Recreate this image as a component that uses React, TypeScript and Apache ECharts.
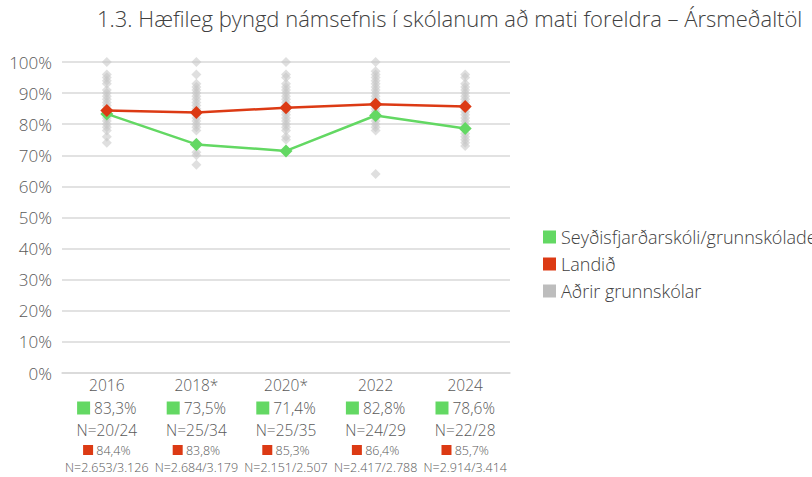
import React, { useEffect, useRef } from "react";
import * as echarts from "echarts";

const titleText = "1.3. Hæfileg þyngd námsefnis í skólanum að mati foreldra – Ársmeðaltöl";
const categories = ["2016", "2018*", "2020*", "2022", "2024"];
const schoolName = "Seyðisfjarðarskóli/grunnskóladeild";
const nationName = "Landið";
const othersName = "Aðrir grunnskólar";
const schoolValues = [83.3, 73.5, 71.4, 82.8, 78.6];
const schoolN = ["N=20/24", "N=25/34", "N=25/35", "N=24/29", "N=22/28"];
const nationValues = [84.4, 83.8, 85.3, 86.4, 85.7];
const nationN = ["N=2.653/3.126", "N=2.684/3.179", "N=2.151/2.507", "N=2.417/2.788", "N=2.914/3.414"];
const others2016 = [100, 96, 95, 94, 93, 91, 90, 89, 88, 87, 86, 85, 84, 83, 82, 81, 80, 79, 78, 76, 74];
const others2018 = [100, 96, 93, 92, 91, 90, 89, 88, 87, 86, 85, 84, 83, 82, 81, 80, 79, 78, 74, 71, 70, 67];
const others2020 = [100, 96, 95, 93, 92, 91, 90, 89, 88, 87, 86, 85, 84, 83, 82, 81, 80, 79, 78, 76, 75];
const others2022 = [100, 97, 96, 95, 94, 93, 92, 91, 90, 89, 88, 87, 86, 85, 84, 82, 81, 80, 79, 78, 64];
const others2024 = [96, 95, 93, 92, 91, 90, 89, 88, 87, 86, 85, 84, 83, 82, 81, 80, 77, 76, 75, 74, 73];
const yTicks = { min: 0, max: 100, interval: 10 };

const fmtPct = (v: number) => v.toFixed(1).replace(".", ",") + "%";

const GREEN = "#63d863";
const RED = "#dc3a14";
const GREY = "#c4c4c4";
const FONT = "'Open Sans', 'Noto Sans', sans-serif";
const TXT = "#595959";

export default function App() {
  const ref = useRef<HTMLDivElement>(null);
  useEffect(() => {
    if (!ref.current) return;
    const chart = echarts.init(ref.current, null, { renderer: "svg" });
    const othersAll = [others2016, others2018, others2020, others2022, others2024];
    const scatterData: [number, number][] = [];
    othersAll.forEach((arr, i) => arr.forEach((v) => scatterData.push([i, v])));
    chart.setOption({
      animation: false,
      textStyle: { fontFamily: FONT },
      graphic: [
        {
          type: "text",
          left: 97,
          top: 7,
          style: { text: titleText, fontSize: 22, fill: "#404040", fontFamily: FONT, fontWeight: 300 },
        },
      ],
      legend: {
        orient: "vertical",
        left: 538,
        top: 223,
        itemWidth: 13,
        itemHeight: 13,
        itemGap: 9,
        icon: "rect",
        textStyle: { fontSize: 18, color: "#404040", fontFamily: FONT, fontWeight: 300 },
        data: [
          { name: schoolName, itemStyle: { color: GREEN } },
          { name: nationName, itemStyle: { color: RED } },
          { name: othersName, itemStyle: { color: "#bdbdbd", opacity: 1 } },
        ],
      },
      grid: { left: 62, right: 302, top: 62, bottom: 104, containLabel: false },
      xAxis: {
        type: "category",
        data: categories,
        axisLine: { show: true, lineStyle: { color: "#d9d9d9", width: 1.5 } },
        axisTick: { show: false },
        axisLabel: {
          interval: 0,
          margin: 1,
          color: TXT,
          formatter: (val: string, idx: number) =>
            `{cat|${val}}\n{gs|}{gv| ${fmtPct(schoolValues[idx])}}\n{gn|${schoolN[idx]}}\n{rs|}{rv| ${fmtPct(nationValues[idx])}}\n{rn|${nationN[idx]}}`,
          rich: {
            cat: { fontSize: 15.5, lineHeight: 22, color: TXT, fontFamily: FONT, fontWeight: 300 },
            gs: { backgroundColor: GREEN, width: 13, height: 13 },
            gv: { fontSize: 15.5, lineHeight: 24, color: TXT, fontFamily: FONT, fontWeight: 300 },
            gn: { fontSize: 15.5, lineHeight: 20, color: TXT, fontFamily: FONT, fontWeight: 300 },
            rs: { backgroundColor: RED, width: 10, height: 10 },
            rv: { fontSize: 12.5, lineHeight: 20, color: TXT, fontFamily: FONT, fontWeight: 300 },
            rn: { fontSize: 12.5, lineHeight: 15, color: TXT, fontFamily: FONT, fontWeight: 300 },
          },
        },
      },
      yAxis: {
        type: "value",
        min: yTicks.min,
        max: yTicks.max,
        interval: yTicks.interval,
        axisLine: { show: false },
        axisTick: { show: false },
        axisLabel: { formatter: "{value}%", fontSize: 17, color: TXT, margin: 10, fontFamily: FONT, fontWeight: 300 },
        splitLine: { lineStyle: { color: "#d9d9d9", width: 1.5 } },
      },
      series: [
        {
          name: schoolName,
          type: "line",
          data: schoolValues,
          z: 4,
          symbol: "diamond",
          symbolSize: 13,
          lineStyle: { color: GREEN, width: 2.5 },
          itemStyle: { color: GREEN },
        },
        {
          name: nationName,
          type: "line",
          data: nationValues,
          z: 5,
          symbol: "diamond",
          symbolSize: 13,
          lineStyle: { color: RED, width: 2.5 },
          itemStyle: { color: RED },
        },
        {
          name: othersName,
          type: "scatter",
          data: scatterData,
          z: 1,
          symbol: "diamond",
          symbolSize: 10,
          itemStyle: { color: GREY, opacity: 0.55 },
        },
      ],
    });
    return () => chart.dispose();
  }, []);
  return <div ref={ref} style={{ width: 812, height: 477, position: "absolute", left: 0, top: 0 }} />;
}
